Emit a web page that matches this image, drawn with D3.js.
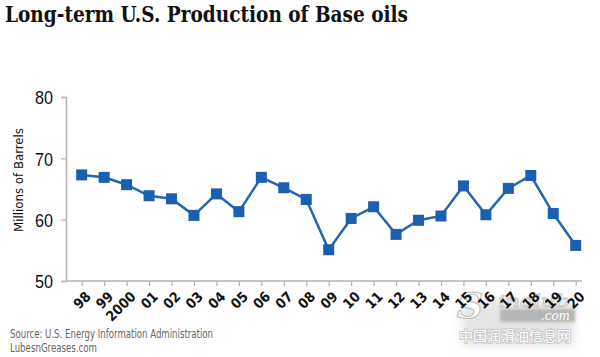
<!DOCTYPE html>
<html>
<head>
<meta charset="utf-8">
<script src="https://cdn.jsdelivr.net/npm/d3@7"></script>
<style>
  html, body { margin: 0; padding: 0; background: #fff; }
  svg { display: block; }
</style>
</head>
<body>
<svg id="chart" width="600" height="357"></svg>
<script>
const years = ["98","99","2000","01","02","03","04","05","06","07","08","09","10","11","12","13","14","15","16","17","18","19","20"];
const production = [67.3,66.9,65.7,63.9,63.4,60.7,64.2,61.3,66.9,65.2,63.3,55.1,60.2,62.1,57.6,59.9,60.6,65.5,60.8,65.1,67.2,61.0,55.8];
const yTicks = [50, 60, 70, 80];
const titleText = "Long-term U.S. Production of Base oils";
const yLabel = "Millions of Barrels";
const sourceLines = ["Source: U.S. Energy Information Administration", "LubesnGreases.com"];
const watermarkText = "中国润滑油信息网";

const svg = d3.select("#chart");
const narrow = '"DejaVu Sans Condensed", "Liberation Sans Narrow", sans-serif';
const sans = '"Liberation Sans", Arial, sans-serif';

const x = d3.scalePoint().domain(years).range([81.7, 575.7]);
const y = d3.scaleLinear().domain([50, 80]).range([281, 97]);

const axisColor = "#b3b3b3";
const lineColor = "#2765ad";
const markColor = "#1a5fb0";

// Watermark (behind chart)
const defs = svg.append("defs");
const f = defs.append("filter").attr("id", "glow").attr("x", "-30%").attr("y", "-60%").attr("width", "160%").attr("height", "220%");
f.append("feGaussianBlur").attr("stdDeviation", 5);
const f2 = defs.append("filter").attr("id", "soft").attr("x", "-10%").attr("y", "-50%").attr("width", "120%").attr("height", "200%");
f2.append("feGaussianBlur").attr("stdDeviation", 1.5);
const wm = svg.append("g");
wm.append("rect").attr("x", 462).attr("y", 300).attr("width", 112).attr("height", 46)
  .attr("fill", "#d0d0d0").attr("opacity", 0.55).attr("filter", "url(#glow)");
wm.append("rect").attr("x", 500).attr("y", 309).attr("width", 75).attr("height", 13)
  .attr("fill", "#b5b5b5").attr("filter", "url(#soft)");
wm.append("text")
  .attr("x", 457).attr("y", 318)
  .attr("font-family", '"DejaVu Serif", serif')
  .attr("font-style", "italic").attr("font-weight", "bold")
  .attr("font-size", 36).attr("fill", "#fff").attr("stroke", "#bbb").attr("stroke-width", 1)
  .text("S");
wm.append("text")
  .attr("x", 498).attr("y", 307)
  .attr("font-family", '"DejaVu Serif", serif')
  .attr("font-style", "italic")
  .attr("font-size", 17).attr("fill", "#fff").attr("stroke", "#c4c4c4").attr("stroke-width", 0.8)
  .attr("textLength", 72).attr("lengthAdjust", "spacingAndGlyphs")
  .text("inolub");
wm.append("text")
  .attr("x", 570).attr("y", 320)
  .attr("text-anchor", "end")
  .attr("font-family", '"DejaVu Serif", serif')
  .attr("font-style", "italic")
  .attr("font-size", 12).attr("fill", "#fff")
  .text(".com");
wm.append("text")
  .attr("x", 515).attr("y", 341)
  .attr("text-anchor", "middle")
  .attr("font-family", '"Noto Sans CJK SC", sans-serif')
  .attr("font-size", 14).attr("fill", "#fff")
  .attr("stroke", "#c8c8c8").attr("stroke-width", 2).attr("paint-order", "stroke")
  .text(watermarkText);

// Title
svg.append("text")
  .attr("x", 5).attr("y", 22)
  .attr("font-family", '"DejaVu Serif", serif')
  .attr("font-weight", "bold")
  .attr("font-size", 22)
  .attr("fill", "#111")
  .attr("textLength", 403)
  .attr("lengthAdjust", "spacingAndGlyphs")
  .text(titleText);

// Y axis
const yAxis = svg.append("g")
  .attr("transform", "translate(66,0)")
  .call(d3.axisLeft(y).tickValues(yTicks).tickSize(5).tickPadding(8).tickFormat(d3.format("d")));
yAxis.select(".domain").attr("stroke", axisColor).attr("stroke-width", 1.5);
yAxis.selectAll(".tick line").attr("stroke", axisColor).attr("stroke-width", 1.2);
yAxis.selectAll(".tick text")
  .attr("font-family", sans)
  .attr("font-size", 19)
  .attr("fill", "#111")
  .attr("textLength", 18)
  .attr("lengthAdjust", "spacingAndGlyphs")
  .attr("dy", "0.36em");

// X axis
const xAxis = svg.append("g")
  .attr("transform", "translate(0,281)")
  .call(d3.axisBottom(x).tickSize(5).tickPadding(4));
xAxis.select(".domain").remove();
xAxis.append("line")
  .attr("x1", 66).attr("x2", 582).attr("y1", 0).attr("y2", 0)
  .attr("stroke", axisColor).attr("stroke-width", 1.5);
xAxis.selectAll(".tick line").attr("stroke", axisColor).attr("stroke-width", 1.2);
xAxis.selectAll(".tick text")
  .attr("font-family", narrow)
  .attr("font-size", 14)
  .attr("font-weight", "bold")
  .attr("fill", "#111")
  .attr("text-anchor", "end")
  .attr("dy", "0.35em")
  .attr("transform", "translate(6,13) rotate(-45)")
  .attr("x", 0).attr("y", 0);

// Y label
svg.append("text")
  .attr("transform", "translate(23,180) rotate(-90)")
  .attr("text-anchor", "middle")
  .attr("font-family", narrow)
  .attr("font-size", 13)
  .attr("fill", "#111")
  .attr("textLength", 104)
  .attr("lengthAdjust", "spacingAndGlyphs")
  .text(yLabel);

// Line
const data = years.map((yr, i) => ({ yr, v: production[i] }));
svg.append("path")
  .datum(data)
  .attr("fill", "none")
  .attr("stroke", lineColor)
  .attr("stroke-width", 2.5)
  .attr("d", d3.line().x(d => x(d.yr)).y(d => y(d.v)));

// Markers
const ms = 11;
svg.selectAll("rect.mark")
  .data(data)
  .join("rect")
  .attr("class", "mark")
  .attr("x", d => x(d.yr) - ms / 2)
  .attr("y", d => y(d.v) - ms / 2)
  .attr("width", ms).attr("height", ms)
  .attr("fill", markColor);

// Source
const srcLen = [203, 87];
svg.selectAll("text.src")
  .data(sourceLines)
  .join("text")
  .attr("class", "src")
  .attr("x", 10)
  .attr("y", (d, i) => 338 + i * 14)
  .attr("font-family", narrow)
  .attr("font-size", 12)
  .attr("fill", "#666")
  .attr("textLength", (d, i) => srcLen[i])
  .attr("lengthAdjust", "spacingAndGlyphs")
  .text(d => d);
</script>
</body>
</html>
